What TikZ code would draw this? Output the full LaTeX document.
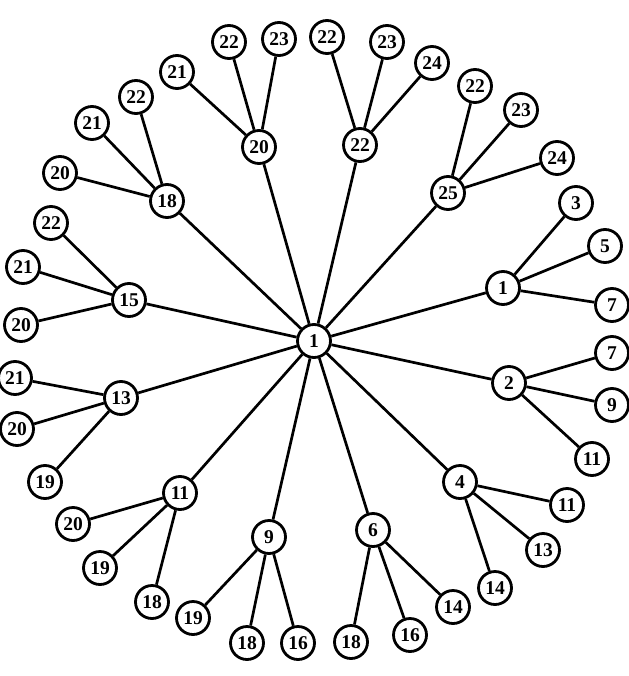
\documentclass[tikz,border=0pt]{standalone}
\usepackage{fontspec}
\setmainfont{Liberation Serif}
\begin{document}
\begin{tikzpicture}[x=1pt,y=-1pt,
  vtx/.style={circle,draw=black,line width=2.8pt,fill=white,minimum size=33pt,inner sep=0pt,
    font=\fontsize{19.5}{19.5}\selectfont\bfseries},
  edge/.style={line width=2.7pt}]
\useasboundingbox (0,0) rectangle (628,676);
% center
\node[vtx] (c) at (314,341) {1};
% first level
\node[vtx] (a1)  at (503,288) {1};
\node[vtx] (a2)  at (509,383) {2};
\node[vtx] (a4)  at (460,482) {4};
\node[vtx] (a6)  at (373,530) {6};
\node[vtx] (a9)  at (269,537) {9};
\node[vtx] (a11) at (180,493) {11};
\node[vtx] (a13) at (121,398) {13};
\node[vtx] (a15) at (129,300) {15};
\node[vtx] (a18) at (167,201) {18};
\node[vtx] (a20) at (259,147) {20};
\node[vtx] (a22) at (360,145) {22};
\node[vtx] (a25) at (448,193) {25};
% leaves
\node[vtx] (b1a) at (576,203) {3};
\node[vtx] (b1b) at (605,246) {5};
\node[vtx] (b1c) at (612,305) {7};
\node[vtx] (b2a) at (612,353) {7};
\node[vtx] (b2b) at (612,405) {9};
\node[vtx] (b2c) at (592,459) {11};
\node[vtx] (b4a) at (567,505) {11};
\node[vtx] (b4b) at (543,550) {13};
\node[vtx] (b4c) at (495,588) {14};
\node[vtx] (b6a) at (453,607) {14};
\node[vtx] (b6b) at (410,635) {16};
\node[vtx] (b6c) at (351,642) {18};
\node[vtx] (b9a) at (298,643) {16};
\node[vtx] (b9b) at (247,643) {18};
\node[vtx] (b9c) at (193,618) {19};
\node[vtx] (b11a) at (152,602) {18};
\node[vtx] (b11b) at (100,568) {19};
\node[vtx] (b11c) at (73,524) {20};
\node[vtx] (b13a) at (45,482) {19};
\node[vtx] (b13b) at (17,429) {20};
\node[vtx] (b13c) at (15,378) {21};
\node[vtx] (b15a) at (21,325) {20};
\node[vtx] (b15b) at (23,267) {21};
\node[vtx] (b15c) at (51,223) {22};
\node[vtx] (b18a) at (60,173) {20};
\node[vtx] (b18b) at (92,123) {21};
\node[vtx] (b18c) at (136,97) {22};
\node[vtx] (b20a) at (177,72) {21};
\node[vtx] (b20b) at (229,42) {22};
\node[vtx] (b20c) at (279,39) {23};
\node[vtx] (b22a) at (327,37) {22};
\node[vtx] (b22b) at (387,42) {23};
\node[vtx] (b22c) at (432,63) {24};
\node[vtx] (b25a) at (475,86) {22};
\node[vtx] (b25b) at (521,110) {23};
\node[vtx] (b25c) at (557,158) {24};
% edges
\foreach \n in {a1,a2,a4,a6,a9,a11,a13,a15,a18,a20,a22,a25}
  \draw[edge] (c) -- (\n);
\foreach \p in {1,2,4,6,9,11,13,15,18,20,22,25}
  \foreach \s in {a,b,c}
    \draw[edge] (a\p) -- (b\p\s);
\end{tikzpicture}
\end{document}
